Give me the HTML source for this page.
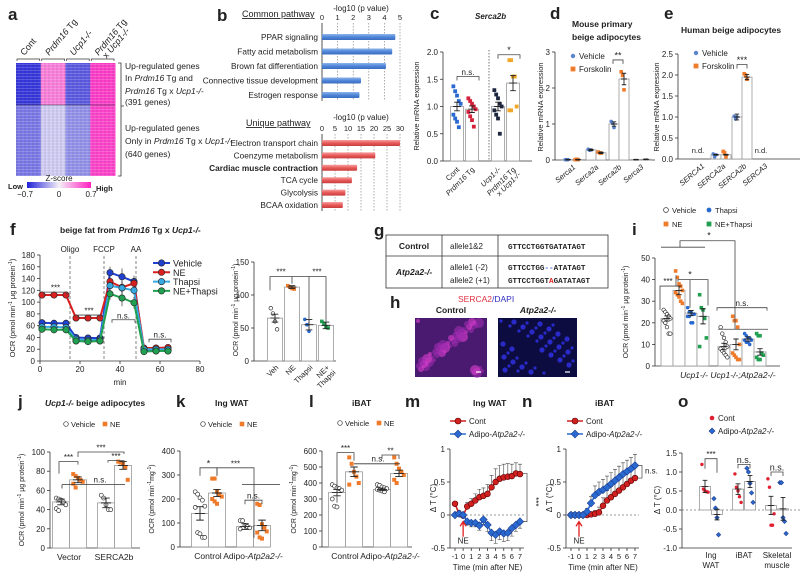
<!DOCTYPE html>
<html><head><meta charset="utf-8">
<style>
html,body{margin:0;padding:0;background:#fff;}
svg{display:block;font-family:"Liberation Sans",Arial,sans-serif;}
text{fill:#222;}
</style></head>
<body>
<svg id="fig" width="800" height="580" viewBox="0 0 800 580" xmlns="http://www.w3.org/2000/svg">
<defs>
<linearGradient id="zgrad" x1="0" x2="1"><stop offset="0" stop-color="#2020d8"/><stop offset="0.5" stop-color="#f4f0f8"/><stop offset="1" stop-color="#ff20c0"/></linearGradient>
<linearGradient id="bluebar" x1="0" y1="0" x2="0" y2="1"><stop offset="0" stop-color="#8fb4ec"/><stop offset="0.5" stop-color="#4f86d8"/><stop offset="1" stop-color="#3a6cc0"/></linearGradient>
<linearGradient id="redbar" x1="0" y1="0" x2="0" y2="1"><stop offset="0" stop-color="#f8a0a0"/><stop offset="0.5" stop-color="#e85a5a"/><stop offset="1" stop-color="#c83c3c"/></linearGradient>
<pattern id="stripes" width="4" height="3" patternUnits="userSpaceOnUse"><rect width="4" height="1" y="1" fill="#fff" opacity="0.18"/><rect width="2" height="3" x="0" fill="#000" opacity="0.05"/></pattern>
</defs>
</svg>
<script>
// ---------------- DATA ----------------
const heatGroups=['Cont','Prdm16 Tg','Ucp1-/-','Prdm16 Tg x Ucp1-/-'];
const heatTopZ=[-0.62,0.38,-0.5,0.6];
const heatBotZ=[-0.4,-0.12,-0.32,0.58];

const bCommonNames=['PPAR signaling','Fatty acid metabolism','Brown fat differentiation','Connective tissue development','Estrogen response'];
const bCommonVals=[4.7,4.5,4.1,2.5,2.4];
const bCommonTicks=[0,1,2,3,4,5];
const bUniqueNames=['Electron transport chain','Coenzyme metabolism','Cardiac muscle contraction','TCA cycle','Glycolysis','BCAA oxidation'];
const bUniqueVals=[30,20.5,13.5,11.5,9,8];
const bUniqueTicks=[0,5,10,15,20,25,30];

const cCats=['Cont','Prdm16 Tg','Ucp1-/-','Prdm16 Tg x Ucp1-/-'];
const cMeans=[1.0,0.95,1.0,1.43];
const cErr=[0.08,0.06,0.08,0.14];
const cDots=[[1.37,1.28,1.2,1.1,1.05,0.85,0.78,0.72,0.62],[1.15,1.1,1.05,1.0,0.95,0.9,0.82,0.75,0.63],[1.3,1.22,1.15,1.05,1.0,0.93,0.85,0.78,0.5],[1.85,1.85,1.55,1.55,1.0,0.93,0.93]];
const cTicks=[0,0.5,1.0,1.5,2.0];

const dCats=['Serca1','Serca2a','Serca2b','Serca3'];
const dVeh=[0.01,0.28,1.0,0.01];
const dFsk=[0.01,0.2,2.25,0.02];
const dVehErr=[0.01,0.02,0.06,0.01];
const dFskErr=[0.01,0.02,0.16,0.01];
const dVehDots=[[0.01,0.01,0.01],[0.3,0.27,0.28],[1.07,1.02,0.9]];
const dFskDots=[[0.01,0.02,0.01],[0.22,0.2,0.19],[2.45,2.35,1.95]];
const dTicks=[0,1,2,3];

const eCats=['SERCA1','SERCA2a','SERCA2b','SERCA3'];
const eVeh=[null,0.1,1.0,null];
const eFsk=[null,0.1,1.95,null];
const eVehErr=[0,0.01,0.07,0];
const eFskErr=[0,0.01,0.06,0];
const eTicks=[0,0.5,1.0,1.5,2.0,2.5];

const fTimes=[1,7,13,18,24,30,35,41,47,52,58,64];
const fVeh=[65,64,64,40,39,39,150,143,135,18,18,18];
const fNE=[112,112,112,73,73,73,135,125,132,22,22,23];
const fTha=[58,58,57,37,35,36,128,124,120,20,20,20];
const fNT=[54,53,53,34,33,34,114,107,99,16,17,17];
const fErrV=[6,6,6,4,4,4,10,14,10,6,6,6];
const fErrN=[3,3,3,3,3,3,8,10,8,4,4,4];
const fTicksY=[0,20,40,60,80,100,120,140,160,180];
const fTicksX=[0,20,40,60,80];

const fbCats=['Veh','NE','Thapsi','NE+ Thapsi'];
const fbMeans=[65,112,55,54];
const fbErr=[6,2,8,5];
const fbDots=[[80,72,60,48],[114,112,110,109],[63,55,45],[60,56,52,50]];
const fbTicks=[0,50,100,150];

const iMeans=[22,35,24.5,23,9,10,12.5,6.5];
const iErr=[1.2,2,1.2,3.5,1.5,2.5,1,1.5];
const iDots=[[26,25,24,23,22,21,20,18,15,15],[44,41,38,37,35,34,33,32,30,29],[27,25,25,24,24,23,23,20,20],[33,27,26,22,13,9],[18,15,13,11,9,8,7,6,5,4],[23,21,21,18,10,6,5,4,3,3],[15,14,13,13,12,12,11,11,10],[15,14,14,6,5,4,3,3]];
const iTicks=[0,10,20,30,40,50];

const jMeans=[48,71,47,86];
const jErr=[3,3,5,4];
const jDots=[[52,51,50,48,45,41,39],[77,75,73,71,69,67,63],[55,52,45,40,40],[90,89,88,84,71]];
const jTicks=[0,20,40,60,80,100];

const kMeans=[140,225,85,90];
const kErr=[28,15,12,22];
const kDots=[[230,220,205,195,170,165,60,55,40,40],[285,285,230,220,210,200,190,180],[110,110,90,85,80,75],[180,175,95,80,65,60,40,35]];
const kTicks=[0,100,200,300,400];

const lMeans=[340,470,360,460];
const lErr=[20,30,8,20];
const lDots=[[390,380,370,365,355,300,255,250],[560,520,470,440,400,390],[390,385,375,370,365,360,355,350,345],[560,520,490,470,450,420,400]];
const lTicks=[0,100,200,300,400,500,600];

const mnTime=[-1,-0.5,0,0.5,1,1.5,2,2.5,3,3.5,4,4.5,5,5.5,6,6.5,7];
const mCont=[0.17,0.02,-0.01,0.13,0.17,0.22,0.27,0.29,0.32,0.42,0.5,0.55,0.57,0.58,0.59,0.63,0.62];
const mContErr=[0.03,0.05,0.05,0.06,0.08,0.1,0.12,0.12,0.14,0.18,0.2,0.2,0.2,0.2,0.18,0.16,0.15];
const mAdip=[0,0.02,0,-0.1,-0.12,-0.12,-0.16,-0.07,-0.15,-0.27,-0.3,-0.25,-0.28,-0.27,-0.2,-0.15,-0.1];
const mAdipErr=[0.02,0.03,0.03,0.05,0.06,0.06,0.07,0.07,0.1,0.12,0.13,0.12,0.12,0.12,0.12,0.1,0.1];
const nCont=[0,0,0,0,0,0.01,0.02,0.04,0.14,0.22,0.27,0.32,0.37,0.42,0.47,0.52,0.56];
const nContErr=[0.01,0.01,0.01,0.01,0.02,0.03,0.05,0.08,0.12,0.15,0.16,0.17,0.17,0.17,0.17,0.17,0.17];
const nAdip=[0,0,0,0,0.05,0.18,0.3,0.35,0.38,0.42,0.47,0.52,0.57,0.62,0.66,0.7,0.75];
const nAdipErr=[0.01,0.01,0.01,0.02,0.05,0.1,0.14,0.15,0.16,0.17,0.17,0.17,0.17,0.17,0.17,0.17,0.17];
const mnTicksY=[-0.5,0,0.5,1];
const mnTicksX=[-1,0,1,2,3,4,5,6,7];

const oCats=['Ing WAT','iBAT','Skeletal muscle'];
const oMeans=[0.62,-0.12,0.55,0.75,0.12,0.03];
const oErr=[0.16,0.14,0.14,0.16,0.24,0.3];
const oDots=[[1.2,0.55,0.5,0.48,0.47],[0.3,0.05,-0.2,-0.65],[0.95,0.6,0.5,0.35,0.2],[1.1,1.0,0.7,0.45,0.2],[0.82,0.6,-0.4,-0.4,-0.1],[0.72,0.72,-0.2,-0.3,-0.62]];
const oTicks=[-1.0,-0.5,0.0,0.5,1.0,1.5];

// ---------------- HELPERS ----------------
const NS='http://www.w3.org/2000/svg';
const S=document.getElementById('fig');
function mk(tag,a,p){const e=document.createElementNS(NS,tag);for(const k in a)e.setAttribute(k,a[k]);(p||S).appendChild(e);return e;}
function tx(x,y,s,a){const o=Object.assign({x:x,y:y,'font-size':8},a||{});const e=mk('text',o);e.innerHTML=s;return e;}
function lin(d0,d1,r0,r1){return v=>r0+(v-d0)*(r1-r0)/(d1-d0);}
function line(x1,y1,x2,y2,a){return mk('line',Object.assign({x1:x1,y1:y1,x2:x2,y2:y2,stroke:'#333','stroke-width':0.8},a||{}));}
function yAxis(x,sc,ticks,fmt,pre){
  const l=line(x,sc(ticks[0]),x,sc(ticks[ticks.length-1]));
  
  
  ticks.forEach(t=>{line(x-3,sc(t),x,sc(t));
    const e=tx(x-5,sc(t)+3,fmt(t),{'text-anchor':'end','font-size':8});
    
    });
}
function ylabel(x,y,s,pre,fs){const e=tx(x,y,s,{'text-anchor':'middle','font-size':fs||7.5,transform:`rotate(-90 ${x} ${y})`});
  
  return e;}
function marker(x,y,type,color,r){
  r=r||2.2;let e;
  if(type==='oc')e=mk('circle',{cx:x,cy:y,r:r,fill:'#fff',stroke:'#333','stroke-width':0.7});
  else if(type==='c')e=mk('circle',{cx:x,cy:y,r:r,fill:color});
  else if(type==='s')e=mk('rect',{x:x-r,y:y-r,width:2*r,height:2*r,fill:color});
  else if(type==='d')e=mk('path',{d:`M${x} ${y-r*1.3}L${x+r*1.3} ${y}L${x} ${y+r*1.3}L${x-r*1.3} ${y}Z`,fill:color,stroke:'#1a3c90','stroke-width':0.6});
  else if(type==='bc')e=mk('circle',{cx:x,cy:y,r:r,fill:color,stroke:'#500','stroke-width':0.6});
  return e;
}
function bar(pre,cx,w,val,err,dots,sc,base,color,mk2,cap){
  const y=sc(val),y0=sc(base);
  const r=mk('rect',{x:cx-w/2,y:Math.min(y,y0),width:w,height:Math.abs(y0-y),fill:'#fff',stroke:'#999','stroke-width':0.8});
  
  
  (dots||[]).forEach((d,k)=>{const dx=((k%5)-2)*w*0.14;
    const m=marker(cx+dx,sc(d),mk2,color,cap||2);
    
    });
  const eb=mk('path',{d:`M${cx} ${sc(val-err)}V${sc(val+err)}M${cx-w*0.22} ${sc(val+err)}H${cx+w*0.22}M${cx-w*0.22} ${sc(val-err)}H${cx+w*0.22}M${cx-w*0.3} ${y}H${cx+w*0.3}`,stroke:'#222',fill:'none','stroke-width':0.9});
  
  
}
function bracket(x1,x2,y,drop1,drop2,label,fs){
  mk('path',{d:`M${x1} ${y+drop1}V${y}H${x2}V${y+drop2}`,stroke:'#444',fill:'none','stroke-width':0.8});
  const e=tx((x1+x2)/2,y-1.5,label,{'text-anchor':'middle','font-size':fs||8});
  
  
}
function plabel(x,y,s){const e=tx(x,y,s,{'font-size':17,'font-weight':'bold'});
  
  }
function title(x,y,s,a){const e=tx(x,y,s,Object.assign({'font-size':8.5,'font-weight':'bold'},a||{}));
  
  return e;}
function zcol(z){const t=Math.max(-1,Math.min(1,z/0.7));
  const lo=[32,32,216],mid=[244,240,248],hi=[255,32,192];
  const a=t<0?lo:hi,u=Math.abs(t);
  return `rgb(${mid.map((m,i)=>Math.round(m+(a[i]-m)*u)).join(',')})`;}

// ---------------- PANEL A ----------------
plabel(8,20,'a');
(function(){
  const x0=16,x1=115,yT=63,yM=105,yB=176,gw=(x1-x0)/heatGroups.length;
  heatGroups.forEach((g,i)=>{
    const gx=x0+i*gw;
    const r1=mk('rect',{x:gx,y:yT,width:gw+0.5,height:yM-yT,fill:zcol(heatTopZ[i])});
    
    
    const r2=mk('rect',{x:gx,y:yM,width:gw+0.5,height:yB-yM,fill:zcol(heatBotZ[i])});
    
    
    mk('path',{d:`M${gx+1} ${yT-2}V${yT-4}H${gx+gw-1}V${yT-2}`,stroke:'#333',fill:'none','stroke-width':0.7});
    const lx=gx+gw/2-4,ly=yT-7;
    const parts=g.split(' x ');
    const t=tx(lx,ly,'',{'font-size':9,transform:`rotate(-50 ${lx} ${ly})`});
    
    
    if(parts.length>1){t.innerHTML='<tspan font-style="italic">Prdm16</tspan> Tg';
      const t2=tx(lx+8,ly+3,'x <tspan font-style="italic">Ucp1-/-</tspan>',{'font-size':9,transform:`rotate(-50 ${lx+8} ${ly+3})`});
      
      }
    else t.innerHTML=g.replace('Prdm16','<tspan font-style="italic">Prdm16</tspan>').replace('Ucp1-/-','<tspan font-style="italic">Ucp1-/-</tspan>');
  });
  mk('rect',{x:x0,y:yT,width:x1-x0,height:yB-yT,fill:'url(#stripes)'});
  line(x0,yM,x1,yM,{stroke:'#334','stroke-width':0.6});
  mk('path',{d:`M118 63H121V176H118M121 106H124`,stroke:'#333',fill:'none','stroke-width':0.8});
  const L=[[69,'Up-regulated genes'],[81,'In <tspan font-style="italic">Prdm16</tspan> Tg and'],[94,'<tspan font-style="italic">Prdm16</tspan> Tg x <tspan font-style="italic">Ucp1-/-</tspan>'],[105,'(391 genes)'],[131,'Up-regulated genes'],[144,'Only in <tspan font-style="italic">Prdm16</tspan> Tg x <tspan font-style="italic">Ucp1-/-</tspan>'],[157,'(640 genes)']];
  L.forEach(l=>{const e=tx(125,l[0],l[1],{'font-size':8.5});
    
    });
  const cb=mk('rect',{x:27,y:182,width:64,height:6,fill:'url(#zgrad)'});
  
  
  tx(59,181,'Z-score',{'text-anchor':'middle','font-size':8});
  tx(8,189,'Low',{'font-size':7.5,'font-weight':'bold'});
  tx(96,191,'High',{'font-size':7.5,'font-weight':'bold'});
  tx(25,197,'−0.7',{'text-anchor':'middle','font-size':8});
  tx(59,197,'0',{'text-anchor':'middle','font-size':8});
  tx(91,197,'0.7',{'text-anchor':'middle','font-size':8});
})();

// ---------------- PANEL B ----------------
plabel(217,21,'b');
(function(){
  function block(names,vals,ticks,x0,x1,tickY,rowY,dy,grad,pre,titleTxt,titleY,labY){
    const sc=lin(ticks[0],ticks[ticks.length-1],x0,x1);
    const t=tx(242+(pre==='unique'?4:0),titleY,titleTxt,{'font-size':9,'text-decoration':'underline'});
    
    
    tx(361,labY,'-log10 (p value)',{'text-anchor':'middle','font-size':8});
    const bottom=rowY+dy*(names.length-1)+6;
    ticks.forEach(v=>{const e=tx(sc(v),tickY,v,{'text-anchor':'middle','font-size':7.5});
      
      
      line(sc(v),tickY+3,sc(v),bottom,{stroke:'#777','stroke-dasharray':'1.5,1.5','stroke-width':0.6});});
    line(x0,tickY+3,x0,bottom,{stroke:'#333'});
    names.forEach((n,i)=>{const y=rowY+dy*i;
      const b=mk('rect',{x:x0,y:y-3,width:sc(vals[i])-x0,height:6,fill:grad,rx:1});
      
      
      const e=tx(x0-4,y+3,n,{'text-anchor':'end','font-size':8.3,'font-weight':n.indexOf('Cardiac')===0?'bold':'normal'});
      
      });
  }
  block(bCommonNames,bCommonVals,bCommonTicks,322,400,20,37,14.5,'url(#bluebar)','common','Common pathway',17,11);
  block(bUniqueNames,bUniqueVals,bUniqueTicks,322,400,131,143,12.4,'url(#redbar)','unique','Unique pathway',126,120);
})();

// ---------------- PANEL C ----------------
plabel(430,19,'c');
title(475,19,'Serca2b',{'font-style':'italic','font-size':8});
(function(){
  const sc=lin(0,2,161,52),ax=443;
  yAxis(ax,sc,cTicks,v=>v.toFixed(1),'c');
  ylabel(419,106,'Relative mRNA expression','c');
  line(ax,161,532,161);
  const cols=['#2a6ad0','#d4213c','#1e2640','#f0a628'];
  cCats.forEach((c,i)=>{const cx=457+i*15+(i>=2?11:0);
    bar('c-'+i,cx,13,cMeans[i],cErr[i],cDots[i],sc,0,cols[i],'s',1.9);
    const lx=cx+3,ly=170;
    const parts=c.split(' x ');
    const e=tx(lx,ly,parts[0].replace('Prdm16','<tspan font-style="italic">Prdm16</tspan>').replace('Ucp1-/-','<tspan font-style="italic">Ucp1-/-</tspan>'),{'text-anchor':'end','font-size':7.5,transform:`rotate(-45 ${lx} ${ly})`});
    
    
    if(parts.length>1){const e2=tx(lx+5,ly+5,'x <tspan font-style="italic">Ucp1-/-</tspan>',{'text-anchor':'end','font-size':7.5,transform:`rotate(-45 ${lx+5} ${ly+5})`});
      
      }
  });
  line(489,50,489,161,{'stroke-dasharray':'1.5,1.5',stroke:'#555'});
  bracket(457,479,sc(1.55),4,4,'n.s.',8);
  bracket(498,520,sc(1.95),4,4,'*',9);
})();

// ---------------- PANEL D ----------------
plabel(550,19,'d');
title(572,27,'Mouse primary');
title(572,40,'beige adipocytes');
(function(){
  const sc=lin(0,3,160,52),ax=555;
  yAxis(ax,sc,dTicks,v=>v,'d');
  ylabel(543,107,'Relative mRNA expression','d');
  line(ax,160,655,160);
  dCats.forEach((c,i)=>{const cx=568+i*23+(i===3?-1:0);
    bar('d-veh',cx,10,dVeh[i],dVehErr[i],dVehDots[i],sc,0,'#5a84cc','c',1.8);
    bar('d-fsk',cx+10,10,dFsk[i],dFskErr[i],dFskDots[i],sc,0,'#ef7a2a','s',1.8);
    const lx=cx+8,ly=168;
    const e=tx(lx,ly,c,{'text-anchor':'end','font-size':7.5,'font-style':'italic',transform:`rotate(-40 ${lx} ${ly})`});
    
    });
  bracket(613,623,sc(2.78),4,4,'**',9);
  marker(573,56,'c','#5a84cc',2.2);tx(579,59,'Vehicle',{'font-size':8});
  marker(573,69,'s','#ef7a2a',2.4);tx(579,72,'Forskolin',{'font-size':8});
})();

// ---------------- PANEL E ----------------
plabel(664,19,'e');
title(681,33,'Human beige adipocytes');
(function(){
  const sc=lin(0,2.5,159,54),ax=678;
  yAxis(ax,sc,eTicks,v=>v.toFixed(1),'e');
  ylabel(659,107,'Relative mRNA expression','e');
  line(ax,159,800,159);
  eCats.forEach((c,i)=>{const cx=695+i*21;
    if(eVeh[i]===null){const e=tx(cx+3,153,'n.d.',{'text-anchor':'middle','font-size':7.5});
      
      }
    else{bar('e-veh',cx,10,eVeh[i],eVehErr[i],[eVeh[i]+0.02,eVeh[i]-0.05,eVeh[i]],sc,0,'#5a84cc','c',1.8);
      bar('e-fsk',cx+10,10,eFsk[i],eFskErr[i],[eFsk[i]+0.08,eFsk[i]+0.05,eFsk[i]-0.05],sc,0,'#ef7a2a','s',1.8);}
    const lx=cx+10,ly=167;
    const e=tx(lx,ly,c,{'text-anchor':'end','font-size':7.5,'font-style':'italic',transform:`rotate(-40 ${lx} ${ly})`});
    
    });
  bracket(737,747,sc(2.25),4,4,'***',9);
  marker(696,53,'c','#5a84cc',2.2);tx(702,56,'Vehicle',{'font-size':8});
  marker(696,66,'s','#ef7a2a',2.4);tx(702,69,'Forskolin',{'font-size':8});
})();

// ---------------- PANEL F ----------------
plabel(10,235,'f');
title(60,233,'beige fat from <tspan font-style="italic">Prdm16</tspan> Tg x <tspan font-style="italic">Ucp1-/-</tspan>');
(function(){
  const sy=lin(0,180,361,255),sx=lin(0,80,40,200);
  yAxis(40,sy,fTicksY,v=>v,'f');
  ylabel(15,308,'OCR (pmol min<tspan baseline-shift="super" font-size="5">-1</tspan> μg protein<tspan baseline-shift="super" font-size="5">-1</tspan>)','f',7.5);
  line(40,361,200,361);
  fTicksX.forEach(v=>{line(sx(v),361,sx(v),364);
    const e=tx(sx(v),372,v,{'text-anchor':'middle','font-size':8});
    
    });
  tx(120,385,'min',{'text-anchor':'middle','font-size':8});
  [[15,'Oligo'],[32,'FCCP'],[48,'AA']].forEach(p=>{line(sx(p[0]),256,sx(p[0]),361,{'stroke-dasharray':'3,2',stroke:'#666'});
    tx(sx(p[0]),252,p[1],{'text-anchor':'middle','font-size':8});});
  const series=[[fVeh,fErrV,'#2040d0','vehicle'],[fNE,fErrN,'#d82020','ne'],[fTha,fErrN,'#38a8e0','thapsi'],[fNT,fErrV,'#20a050','ne-thapsi']];
  series.forEach(s=>{
    fTimes.forEach((t,i)=>{line(sx(t),sy(s[0][i]-s[1][i]),sx(t),sy(s[0][i]+s[1][i]),{'stroke-width':0.7});});
    let d='';fTimes.forEach((t,i)=>{d+=(i?'L':'M')+sx(t)+' '+sy(s[0][i]);});
    const p=mk('path',{d:d,fill:'none',stroke:s[2],'stroke-width':2});
    
    
    fTimes.forEach((t,i)=>{const m=mk('circle',{cx:sx(t),cy:sy(s[0][i]),r:3.2,fill:s[2],stroke:'#222','stroke-width':0.6});
      
      });
  });
  bracket(44,67,sy(117),3,3,'***',8);
  bracket(78,100,sy(78),3,3,'***',8);
  bracket(112,135,sy(70),3,3,'n.s.',8);
  bracket(149,171,sy(37),3,3,'n.s.',8);
  const lg=[['Vehicle','#2040d0'],['NE','#d82020'],['Thapsi','#38a8e0'],['NE+Thapsi','#20a050']];
  lg.forEach((l,i)=>{const y=263+i*9.3;
    line(153,y,170,y,{stroke:l[1],'stroke-width':2});
    mk('circle',{cx:161.5,cy:y,r:3.2,fill:l[1],stroke:'#222','stroke-width':0.6});
    const e=tx(173,y+3.5,l[0],{'font-size':9});
    
    });
  // right bar chart
  const sb=lin(0,150,361,262),ax=254;
  yAxis(ax,sb,fbTicks,v=>v,'fb');
  ylabel(238,310,'OCR (pmol min<tspan baseline-shift="super" font-size="5">-1</tspan> μg protein<tspan baseline-shift="super" font-size="5">-1</tspan>)','fb',7);
  line(ax,361,336,361);
  const cols=['#fff','#ef7a2a','#2a6ad0','#20a050'],mks=['oc','s','c','s'];
  fbCats.forEach((c,i)=>{const cx=275+i*17;
    bar('fb-'+i,cx,15,fbMeans[i],fbErr[i],fbDots[i],sb,0,cols[i],mks[i],1.8);
    const lx=cx+4,ly=368;
    const parts=c.split(' ');
    const e=tx(lx,ly,parts[0],{'text-anchor':'end','font-size':7.5,transform:`rotate(-45 ${lx} ${ly})`});
    
    
    if(parts[1]){tx(lx+6,ly+5,parts[1],{'text-anchor':'end','font-size':7.5,transform:`rotate(-45 ${lx+6} ${ly+5})`});}
  });
  mk('path',{d:`M270 ${sb(107)}V${sb(128)}H326V${sb(60)}M292 ${sb(128)}V${sb(117)}M309 ${sb(128)}V${sb(62)}`,stroke:'#444',fill:'none','stroke-width':0.8});
  tx(281,sb(131),'***',{'text-anchor':'middle','font-size':8});
  tx(317,sb(131),'***',{'text-anchor':'middle','font-size':8});
})();

// ---------------- PANEL G ----------------
plabel(374,236,'g');
(function(){
  const g=mk('g',{});
  
  
  mk('rect',{x:386,y:235,width:222,height:53,fill:'none',stroke:'#333','stroke-width':0.8},g);
  line(386,256,608,256);line(442,235,442,288);line(498,235,498,288);
  tx(414,249,'Control',{'text-anchor':'middle','font-size':8.5,'font-weight':'bold'},);
  tx(414,275,'Atp2a2-/-',{'text-anchor':'middle','font-size':8.5,'font-weight':'bold','font-style':'italic'});
  tx(450,249,'allele1&amp;2',{'font-size':8});
  tx(450,270,'allele1 (-2)',{'font-size':8});
  tx(450,283,'allele2 (+1)',{'font-size':8});
  const mono={'font-size':7.6,'font-family':'Liberation Mono, monospace','font-weight':'bold'};
  tx(508,249,'GTTCCTGGTGATATAGT',mono);
  tx(508,270,'GTTCCTGG<tspan fill="#4060e0">--</tspan>ATATAGT',mono);
  tx(508,283,'GTTCCTGGT<tspan fill="#e02020">A</tspan>GATATAGT',mono);
})();

// ---------------- PANEL H ----------------
plabel(390,308,'h');
(function(){
  tx(458,302,'<tspan fill="#e03040">SERCA2</tspan><tspan fill="#3030c0">/DAPI</tspan>',{'font-size':8.5});
  tx(451,313,'Control',{'text-anchor':'middle','font-size':8.5,'font-weight':'bold'});
  tx(538,313,'Atp2a2-/-',{'text-anchor':'middle','font-size':8.5,'font-weight':'bold','font-style':'italic'});
  const c=mk('rect',{x:415,y:318,width:72,height:59,fill:'#4a1a70'});
  
  
  const k=mk('rect',{x:498,y:318,width:79,height:59,fill:'#0c0c40'});
  
  
  for(let i=0;i<40;i++){const x=418+(i*37%66),y=321+(i*23%53);
    mk('circle',{cx:x,cy:y,r:2+(i%4),fill:i%3?'#a02cb0':'#e040d0',opacity:0.6});}
  for(let i=0;i<45;i++){const x=501+(i*41%73),y=321+(i*29%53);
    mk('circle',{cx:x,cy:y,r:1.6+(i%2),fill:'#3030e0',opacity:0.85});}
  line(476,372,481,372,{stroke:'#fff','stroke-width':1.2});
  line(565,372,570,372,{stroke:'#fff','stroke-width':1.2});
})();

// ---------------- PANEL I ----------------
plabel(632,235,'i');
(function(){
  const sc=lin(0,50,366,258),ax=655;
  yAxis(ax,sc,iTicks,v=>v,'i');
  ylabel(628,312,'OCR (pmol min<tspan baseline-shift="super" font-size="5">-1</tspan> μg protein<tspan baseline-shift="super" font-size="5">-1</tspan>)','i',7);
  line(ax,366,780,366);
  const cols=['#fff','#ef7a2a','#2a6ad0','#20a050'],mks=['oc','s','c','s'];
  iMeans.forEach((v,i)=>{const g=Math.floor(i/4),j=i%4;const cx=667+j*12+g*57;
    bar('i-'+i,cx,12,v,iErr[i],iDots[i],sc,0,cols[j],mks[j],1.8);});
  tx(694,378,'Ucp1-/-',{'text-anchor':'middle','font-size':8.5,'font-style':'italic'});
  tx(743,378,'Ucp1-/-;Atp2a2-/-',{'text-anchor':'middle','font-size':8.5,'font-style':'italic'});
  mk('path',{d:`M660 ${sc(26)}V${sc(37)}H676V${sc(42)}`,stroke:'#444',fill:'none','stroke-width':0.8});
  tx(668,sc(38),'***',{'text-anchor':'middle','font-size':8});
  mk('path',{d:`M678 ${sc(39)}V${sc(40)}H708V${sc(28)}M690 ${sc(40)}V${sc(27)}`,stroke:'#444',fill:'none','stroke-width':0.8});
  tx(690,sc(41),'*',{'text-anchor':'middle','font-size':9});
  mk('path',{d:`M661 ${sc(55)}H705M680 ${sc(55)}V${sc(58)}H735V${sc(17)}M718 ${sc(17)}H768`,stroke:'#444',fill:'none','stroke-width':0.8});
  tx(709,sc(59),'*',{'text-anchor':'middle','font-size':9});
  bracket(717,767,sc(27),3,3,'n.s.',8);
  marker(666,210,'oc','#fff',2.4);tx(672,213,'Vehicle',{'font-size':7.5});
  marker(709,210,'c','#2a6ad0',2.4);tx(715,213,'Thapsi',{'font-size':7.5});
  marker(666,224,'s','#ef7a2a',2.4);tx(672,227,'NE',{'font-size':7.5});
  marker(709,224,'s','#20a050',2.4);tx(715,227,'NE+Thapsi',{'font-size':7.5});
})();

// ---------------- PANELS J K L ----------------
function twoGroup(pre,means,errs,dots,ticks,ax,top,bot,x0,cats,ylab){
  const sc=lin(0,ticks[ticks.length-1],bot,top);
  yAxis(ax,sc,ticks,v=>v,pre);
  ylabel(ax-26,(top+bot)/2,ylab,pre,7);
  line(ax,bot,ax+90,bot);
  means.forEach((v,i)=>{const g=Math.floor(i/2),j=i%2;const cx=x0+j*17+g*45;
    bar(pre+'-'+i,cx,17,v,errs[i],dots[i],sc,0,'#ef7a2a',j?'s':'oc',2);});
  cats.forEach((c,g)=>{const e=tx(x0+8+g*45,bot+12,c,{'text-anchor':'middle','font-size':8.5});
    
    });
  return sc;
}
plabel(18,407,'j');
title(45,406,'<tspan font-style="italic">Ucp1-/-</tspan> beige adipocytes');
(function(){
  const sc=twoGroup('j',jMeans,jErr,jDots,jTicks,50,452,548,61,['Vector','SERCA2b'],'OCR (pmol min<tspan baseline-shift="super" font-size="5">-1</tspan> μg protein<tspan baseline-shift="super" font-size="5">-1</tspan>)');
  marker(66,424,'oc','#fff',2.3);tx(71,427,'Vehicle',{'font-size':7.5});
  marker(105,424,'s','#ef7a2a',2.3);tx(110,427,'NE',{'font-size':7.5});
  bracket(59,78,sc(90),12,3,'***',8);
  bracket(108,124,sc(91),2,2,'***',8);
  bracket(78,124,sc(100),5,2,'***',8);
  line(62,sc(66),125,sc(66));line(62,sc(66),62,sc(62));
  tx(100,sc(68),'n.s.',{'text-anchor':'middle','font-size':8});
})();
plabel(176,407,'k');
title(215,406,'Ing WAT');
(function(){
  const sc=twoGroup('k',kMeans,kErr,kDots,kTicks,180,451,547,200,['Control','Adipo-<tspan font-style="italic">Atp2a2-/-</tspan>'],'OCR (pmol min<tspan baseline-shift="super" font-size="5">-1</tspan>mg<tspan baseline-shift="super" font-size="5">-1</tspan>)');
  marker(203,424,'oc','#fff',2.3);tx(208,427,'Vehicle',{'font-size':7.5});
  marker(242,424,'s','#ef7a2a',2.3);tx(247,427,'NE',{'font-size':7.5});
  bracket(200,217,sc(330),8,8,'*',9);
  bracket(217,254,sc(330),8,70,'***',8);
  line(242,sc(260),280,sc(260));
  bracket(245,262,sc(195),4,4,'n.s.',8);
})();
plabel(309,407,'l');
title(352,406,'iBAT');
(function(){
  const sc=twoGroup('l',lMeans,lErr,lDots,lTicks,322,451,547,337,['Control','Adipo-<tspan font-style="italic">Atp2a2-/-</tspan>'],'OCR (pmol min<tspan baseline-shift="super" font-size="5">-1</tspan>mg<tspan baseline-shift="super" font-size="5">-1</tspan>)');
  marker(340,423,'oc','#fff',2.3);tx(345,426,'Vehicle',{'font-size':7.5});
  marker(379,423,'s','#ef7a2a',2.3);tx(384,426,'NE',{'font-size':7.5});
  bracket(337,354,sc(590),50,8,'***',8);
  line(354,sc(520),400,sc(520));
  tx(378,sc(535),'n.s.',{'text-anchor':'middle','font-size':8});
  bracket(382,399,sc(575),4,4,'**',8);
})();

// ---------------- PANELS M N ----------------
function timePanel(pre,ax,xs0,xs1,cont,contErr,adip,adipErr){
  const sy=lin(-0.5,1,548,449),sx=lin(-1,7,xs0,xs1);
  yAxis(ax,sy,mnTicksY,v=>v,pre);
  ylabel(ax-14,498,'Δ T (°C)',pre,8);
  line(ax,548,xs1+4,548);
  line(ax,sy(0),xs1+4,sy(0),{'stroke-dasharray':'2,2',stroke:'#777'});
  mnTicksX.forEach(v=>{line(sx(v),548,sx(v),551);
    const e=tx(sx(v),559,v,{'text-anchor':'middle','font-size':7.5});
    
    });
  tx((xs0+xs1)/2,570,'Time (min after NE)',{'text-anchor':'middle','font-size':8});
  [[cont,contErr,'#d22020','cont','bc'],[adip,adipErr,'#2a6ad0','adipo','d']].forEach(s=>{
    mnTime.forEach((t,i)=>{const up=s[3]==='cont'?1:(pre==='n'?1:-1);
      const y2=sy(s[0][i]+up*s[1][i]);
      mk('path',{d:`M${sx(t)} ${sy(s[0][i])}V${y2}M${sx(t)-2} ${y2}H${sx(t)+2}`,stroke:'#444',fill:'none','stroke-width':0.6});});
    let d='';mnTime.forEach((t,i)=>{d+=(i?'L':'M')+sx(t)+' '+sy(s[0][i]);});
    const p=mk('path',{d:d,fill:'none',stroke:s[2],'stroke-width':1.6});
    
    
    mnTime.forEach((t,i)=>{const m=marker(sx(t),sy(s[0][i]),s[4],s[2],2.9);
      
      });
  });
  mk('path',{d:`M${sx(0)} ${sy(-0.12)}V${sy(-0.33)}M${sx(0)-3} ${sy(-0.17)}L${sx(0)} ${sy(-0.1)}L${sx(0)+3} ${sy(-0.17)}`,stroke:'#e02020',fill:'none','stroke-width':1.3});
  tx(sx(0),sy(-0.43),'NE',{'text-anchor':'middle','font-size':8});
  return [sx,sy];
}
plabel(405,407,'m');
title(473,406,'Ing WAT');
(function(){
  const r=timePanel('m',450,455,520,mCont,mContErr,mAdip,mAdipErr);
  mk('path',{d:`M523 ${r[1](0.63)}H527V${r[1](-0.1)}H523`,stroke:'#444',fill:'none','stroke-width':0.7});
  tx(533,r[1](0.27),'***',{'font-size':8,transform:`rotate(90 533 ${r[1](0.27)})`});
  line(450,421,466,421,{stroke:'#d22020','stroke-width':1.5});marker(458,421,'bc','#d22020',3);tx(469,424,'Cont',{'font-size':8});
  line(450,434,466,434,{stroke:'#2a6ad0','stroke-width':1.5});marker(458,434,'d','#2a6ad0',3);tx(469,437,'Adipo-<tspan font-style="italic">Atp2a2-/-</tspan>',{'font-size':8});
})();
plabel(522,407,'n');
title(595,406,'iBAT');
(function(){
  const r=timePanel('n',566,571,635,nCont,nContErr,nAdip,nAdipErr);
  mk('path',{d:`M638 ${r[1](0.75)}H642V${r[1](0.56)}H638`,stroke:'#444',fill:'none','stroke-width':0.7});
  tx(645,r[1](0.63),'n.s.',{'font-size':8});
  line(567,421,583,421,{stroke:'#d22020','stroke-width':1.5});marker(575,421,'bc','#d22020',3);tx(586,424,'Cont',{'font-size':8});
  line(567,434,583,434,{stroke:'#2a6ad0','stroke-width':1.5});marker(575,434,'d','#2a6ad0',3);tx(586,437,'Adipo-<tspan font-style="italic">Atp2a2-/-</tspan>',{'font-size':8});
})();

// ---------------- PANEL O ----------------
plabel(678,407,'o');
(function(){
  const sc=lin(-1,1.5,548,453),ax=682;
  yAxis(ax,sc,oTicks,v=>v.toFixed(1),'o');
  ylabel(660,500,'Δ T (°C)','o',8);
  line(ax,548,792,548);
  line(ax,sc(0),800,sc(0),{'stroke-dasharray':'2,2',stroke:'#777'});
  oMeans.forEach((v,i)=>{const g=Math.floor(i/2),j=i%2;const cx=705+j*12+g*33;
    bar('o-'+i,cx,11,v,oErr[i],oDots[i],sc,0,j?'#2a6ad0':'#e02030',j?'d':'c',1.7);});
  tx(711,558,'Ing',{'text-anchor':'middle','font-size':8});tx(711,568,'WAT',{'text-anchor':'middle','font-size':8});
  tx(744,558,'iBAT',{'text-anchor':'middle','font-size':8});
  tx(777,558,'Skeletal',{'text-anchor':'middle','font-size':8});tx(777,568,'muscle',{'text-anchor':'middle','font-size':8});
  bracket(705,717,sc(1.35),10,14,'***',8);
  bracket(738,750,sc(1.2),4,4,'n.s.',9);
  bracket(771,783,sc(1.0),4,4,'n.s.',9);
  marker(712,418,'c','#e02030',2.3);tx(718,421,'Cont',{'font-size':8});
  marker(712,431,'d','#2a6ad0',2.3);tx(718,434,'Adipo-<tspan font-style="italic">Atp2a2-/-</tspan>',{'font-size':8});
})();
</script>
</body></html>
